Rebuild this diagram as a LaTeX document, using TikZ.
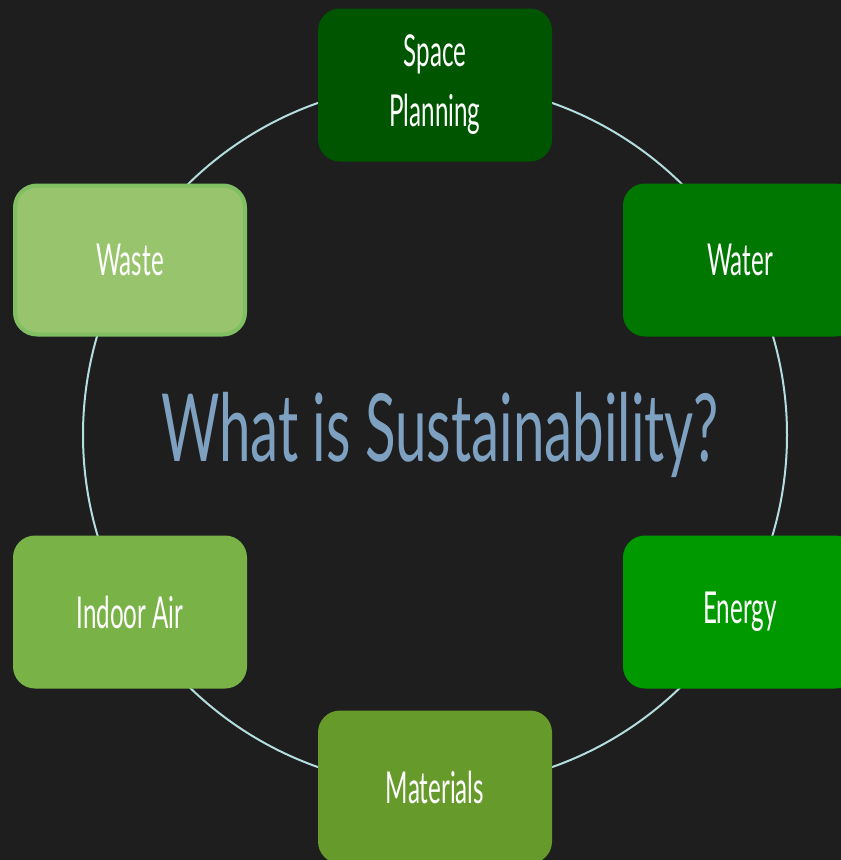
\documentclass[tikz,border=0pt]{standalone}
\usepackage{fontspec}
\setmainfont[FakeStretch=0.55]{Lato}
\newfontfamily\titlefont[FakeStretch=0.6]{Lato}
\definecolor{bgdark}{HTML}{1E1E1E}
\definecolor{ringline}{HTML}{B4DDE0}
\definecolor{titleblue}{HTML}{7FA1C1}
\definecolor{spacegreen}{HTML}{005500}
\definecolor{watergreen}{HTML}{007700}
\definecolor{energygreen}{HTML}{009900}
\definecolor{materialgreen}{HTML}{669A2B}
\definecolor{airgreen}{HTML}{79B348}
\definecolor{wastegreen}{HTML}{97C46C}
\definecolor{wasteedge}{HTML}{80C062}
\begin{document}
\begin{tikzpicture}[x=1pt,y=-1pt]

    \tikzset{
      topic/.style={
        rounded corners=22pt,
        minimum width=234pt,
        minimum height=153pt,
        text=white,
        align=center,
        font=\fontsize{44}{60}\selectfont,
        inner sep=0pt,
      },
    }
    \useasboundingbox (0,0) rectangle (841,860);
    \fill[bgdark] (0,0) rectangle (841,860);
	\draw[color=ringline,line width=2pt] (435,435) circle (352);
	\node[color=titleblue,font=\titlefont\fontsize{94}{100}\selectfont] (title) at (440,435) {What is Sustainability?};

	\node[topic,fill=spacegreen] (space) at (435,85) {Space\\Planning};
	\node[topic,fill=watergreen] (water) at (740,260) {Water};
	\node[topic,fill=energygreen] (energy) at (740,612) {Energy};
	\node[topic,fill=materialgreen] (materials) at (435,787) {Materials};
	\node[topic,fill=airgreen] (air) at (130,612) {Indoor Air};
	\node[topic,fill=wastegreen,draw=wasteedge,line width=4pt,minimum width=230pt,minimum height=149pt] (waste) at (130,260) {Waste};

\end{tikzpicture}
\end{document}
